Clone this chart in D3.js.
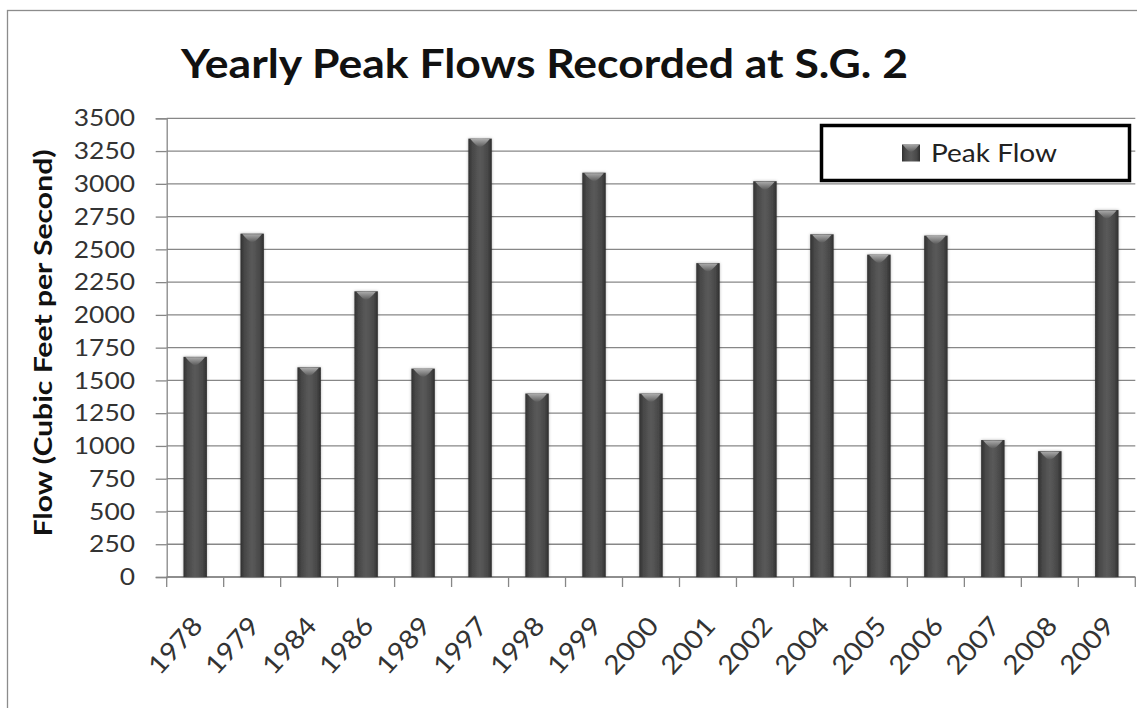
<!DOCTYPE html>
<html>
<head>
<meta charset="utf-8">
<script src="https://cdn.jsdelivr.net/npm/d3@7"></script>
<style>
  html, body { margin: 0; padding: 0; background: #fff; }
  svg { display: block; }
</style>
</head>
<body>
<svg id="chart" width="1137" height="708"></svg>
<script>
const categories = ["1978", "1979", "1984", "1986", "1989", "1997", "1998", "1999", "2000",
                    "2001", "2002", "2004", "2005", "2006", "2007", "2008", "2009"];
const peakFlow = [1680, 2620, 1600, 2180, 1590, 3345, 1400, 3085, 1400,
                  2395, 3020, 2615, 2460, 2605, 1045, 960, 2800];
const yTickValues = [0, 250, 500, 750, 1000, 1250, 1500, 1750, 2000, 2250, 2500, 2750, 3000, 3250, 3500];
const titleText = "Yearly Peak Flows Recorded at S.G. 2";
const yAxisTitle = "Flow (Cubic Feet per Second)";
const seriesName = "Peak Flow";

const svg = d3.select("#chart");
const FONT = "Lato, 'Open Sans', sans-serif";
const SX = 1.1; // horizontal stretch of label glyphs

const plot = { left: 166.7, right: 1135.3, top: 118.3, bottom: 577 };

// outer chart border
svg.append("rect")
  .attr("x", 7.5).attr("y", 10.5).attr("width", 1200).attr("height", 800)
  .attr("fill", "#fff").attr("stroke", "#8c8c8c").attr("stroke-width", 1.3);

const defs = svg.append("defs");
const barGrad = defs.append("linearGradient").attr("id", "barGrad")
  .attr("x1", "0%").attr("x2", "100%").attr("y1", "0%").attr("y2", "0%");
[["0%", "#303030"], ["18%", "#484848"], ["50%", "#5a5a5a"], ["82%", "#484848"], ["100%", "#2e2e2e"]]
  .forEach(([o, c]) => barGrad.append("stop").attr("offset", o).attr("stop-color", c));
const capGrad = defs.append("linearGradient").attr("id", "capGrad")
  .attr("x1", "0%").attr("x2", "0%").attr("y1", "0%").attr("y2", "100%");
[["0%", "#b4b4b4"], ["100%", "#5a5a5a"]]
  .forEach(([o, c]) => capGrad.append("stop").attr("offset", o).attr("stop-color", c));
const shadow = defs.append("filter").attr("id", "glow")
  .attr("x", "-40%").attr("y", "-10%").attr("width", "180%").attr("height", "120%");
shadow.append("feDropShadow").attr("dx", 0).attr("dy", 0).attr("stdDeviation", 1.6)
  .attr("flood-color", "#000").attr("flood-opacity", 0.3);

const x = d3.scaleBand().domain(categories).range([plot.left, plot.right])
  .paddingInner(0.589).paddingOuter(0.2945);
const xb = d3.scaleBand().domain(categories).range([plot.left, plot.right]);
const y = d3.scaleLinear().domain([0, 3500]).range([plot.bottom, plot.top]);

// gridlines
svg.append("g").selectAll("line").data(yTickValues).join("line")
  .attr("x1", plot.left).attr("x2", plot.right)
  .attr("y1", d => y(d)).attr("y2", d => y(d))
  .attr("stroke", "#878787").attr("stroke-width", 1.3);

// y axis
const yAxis = svg.append("g").attr("transform", `translate(${plot.left},0)`)
  .call(d3.axisLeft(y).tickValues(yTickValues).tickSize(11).tickPadding(0).tickFormat(d3.format("d")));
yAxis.select(".domain").attr("stroke", "#878787").attr("stroke-width", 1.3);
yAxis.selectAll(".tick line").attr("stroke", "#878787").attr("stroke-width", 1.3);
yAxis.selectAll(".tick text")
  .attr("x", -31.7 / SX)
  .attr("transform", `scale(${SX},1)`)
  .attr("font-family", FONT).attr("font-size", 24).attr("fill", "#333");

// x axis line + ticks at band boundaries
svg.append("line").attr("x1", plot.left).attr("x2", plot.right)
  .attr("y1", plot.bottom).attr("y2", plot.bottom)
  .attr("stroke", "#878787").attr("stroke-width", 1.3);
const boundaries = categories.map(c => xb(c)).concat([xb(categories[categories.length - 1]) + xb.bandwidth()]);
svg.append("g").selectAll("line").data(boundaries).join("line")
  .attr("x1", d => d).attr("x2", d => d)
  .attr("y1", plot.bottom).attr("y2", plot.bottom + 10)
  .attr("stroke", "#878787").attr("stroke-width", 1.3);

// bars
const bars = svg.append("g");
bars.selectAll("rect").data(categories).join("rect")
  .attr("x", (c) => x(c)).attr("width", x.bandwidth())
  .attr("y", (c, i) => y(peakFlow[i])).attr("height", (c, i) => y(0) - y(peakFlow[i]))
  .attr("fill", "url(#barGrad)").attr("filter", "url(#glow)");
bars.selectAll("path").data(categories).join("path")
  .attr("d", (c, i) => {
    const x0 = x(c) + 2, x1 = x(c) + x.bandwidth() - 2, cx = x(c) + x.bandwidth() / 2, t = y(peakFlow[i]) + 0.5;
    return `M${x0},${t} L${x1},${t} Q${cx + 3},${t + 8} ${cx},${t + 8} Q${cx - 3},${t + 8} ${x0},${t} Z`;
  })
  .attr("fill", "url(#capGrad)").attr("opacity", 0.9);

// x labels
svg.append("g").selectAll("text").data(categories).join("text")
  .attr("transform", c => `translate(${x(c) + x.bandwidth() / 2 + 9},${627}) rotate(-48) scale(${SX},1)`)
  .attr("text-anchor", "end")
  .attr("font-family", FONT).attr("font-size", 26).attr("fill", "#333")
  .text(c => c);

// title
svg.append("text").attr("x", 181).attr("y", 78)
  .attr("font-family", FONT).attr("font-weight", 700).attr("font-size", 40).attr("fill", "#111")
  .attr("textLength", 727).attr("lengthAdjust", "spacingAndGlyphs")
  .text(titleText);

// y axis title
svg.append("text")
  .attr("transform", `translate(52,343) rotate(-90)`)
  .attr("text-anchor", "middle")
  .attr("font-family", FONT).attr("font-weight", 700).attr("font-size", 24).attr("fill", "#111")
  .attr("textLength", 387).attr("lengthAdjust", "spacingAndGlyphs")
  .text(yAxisTitle);

// legend
const lg = svg.append("g");
lg.append("rect").attr("x", 821.5).attr("y", 125.5).attr("width", 308).attr("height", 55)
  .attr("fill", "#fff").attr("stroke", "#000").attr("stroke-width", 3.5);
lg.append("rect").attr("x", 902).attr("y", 144.5).attr("width", 18).attr("height", 17)
  .attr("fill", "url(#barGrad)");
lg.append("path").attr("d", "M903,145 L919,145 Q913.5,152 911,152 Q908.5,152 903,145 Z")
  .attr("fill", "url(#capGrad)").attr("opacity", 0.8);
lg.append("text").attr("x", 931).attr("y", 161.5)
  .attr("font-family", FONT).attr("font-size", 25).attr("fill", "#222")
  .attr("textLength", 126).attr("lengthAdjust", "spacingAndGlyphs")
  .text(seriesName);
</script>
</body>
</html>
